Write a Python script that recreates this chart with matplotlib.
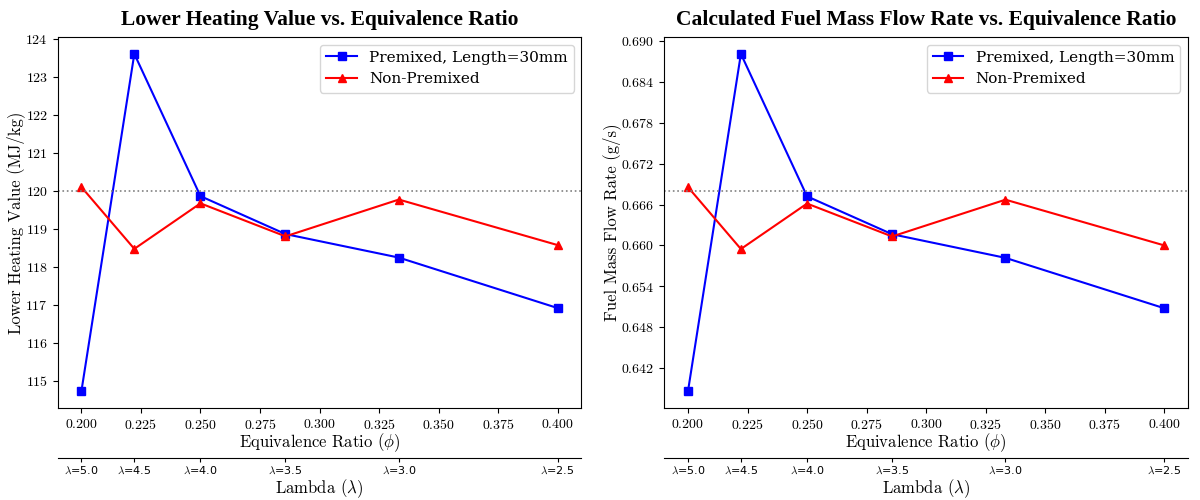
import numpy as np
import matplotlib
matplotlib.use("Agg")
import matplotlib.pyplot as plt
from matplotlib.ticker import MultipleLocator

plt.rcParams['font.family'] = 'serif'
plt.rcParams['font.serif'] = ['cmr10']
plt.rcParams['mathtext.fontset'] = 'cm'
plt.rcParams['axes.formatter.use_mathtext'] = True
plt.rcParams['axes.unicode_minus'] = False

# Lambda values and the matching equivalence ratios (phi = 1/lambda)
lambdas = [5.0, 4.5, 4.0, 3.5, 3.0, 2.5]
phi = [1.0 / l for l in lambdas]

# Lower heating value (MJ/kg)
lhv_premixed = [114.72, 123.61, 119.86, 118.86, 118.24, 116.91]
lhv_nonpremixed = [120.10, 118.47, 119.67, 118.80, 119.77, 118.57]

# Fuel mass flow rate (g/s)
mdot_premixed = [0.63862, 0.68812, 0.66721, 0.66165, 0.65818, 0.65079]
mdot_nonpremixed = [0.66856, 0.65948, 0.66615, 0.66132, 0.66672, 0.66001]

lhv_ref = 120.0
mdot_ref = 0.668

fig, axes = plt.subplots(1, 2, figsize=(12, 5), dpi=100)
fig.subplots_adjust(left=0.048, right=0.99, top=0.926, bottom=0.184, wspace=0.158)

panels = [
    (axes[0], lhv_premixed, lhv_nonpremixed, lhv_ref, 1.0,
     'Lower Heating Value (MJ/kg)', 'Lower Heating Value vs. Equivalence Ratio'),
    (axes[1], mdot_premixed, mdot_nonpremixed, mdot_ref, 0.006,
     'Fuel Mass Flow Rate (g/s)', 'Calculated Fuel Mass Flow Rate vs. Equivalence Ratio'),
]

for ax, prem, nonprem, ref, ystep, ylabel, title in panels:
    ax.plot(phi, prem, 'b-s', markersize=6, linewidth=1.5, label='Premixed, Length=30mm')
    ax.plot(phi, nonprem, 'r-^', markersize=6, linewidth=1.5, label='Non-Premixed')
    ax.axhline(ref, color='gray', linestyle=':', linewidth=1.2)
    ax.yaxis.set_major_locator(MultipleLocator(ystep))
    ax.tick_params(labelsize=10)
    ax.set_xlabel(r'Equivalence Ratio ($\phi$)', fontsize=12, labelpad=0)
    ax.set_ylabel(ylabel, fontsize=12, labelpad=0)
    ax.set_title(title, fontsize=15.5, fontweight='bold', family='Liberation Serif', pad=9)
    ax.legend(loc='upper right', prop={'family': 'DejaVu Serif', 'size': 11})

    # second axis below showing lambda
    sec = ax.secondary_xaxis(-0.135)
    sec.set_xticks(phi)
    sec.set_xticklabels([rf'$\lambda$={l}' for l in lambdas], fontsize=8, family='DejaVu Sans')
    sec.tick_params(length=3, pad=1.5)
    sec.set_xlabel(r'Lambda ($\lambda$)', fontsize=12, labelpad=1)

fig.savefig('out.png', dpi=100)
